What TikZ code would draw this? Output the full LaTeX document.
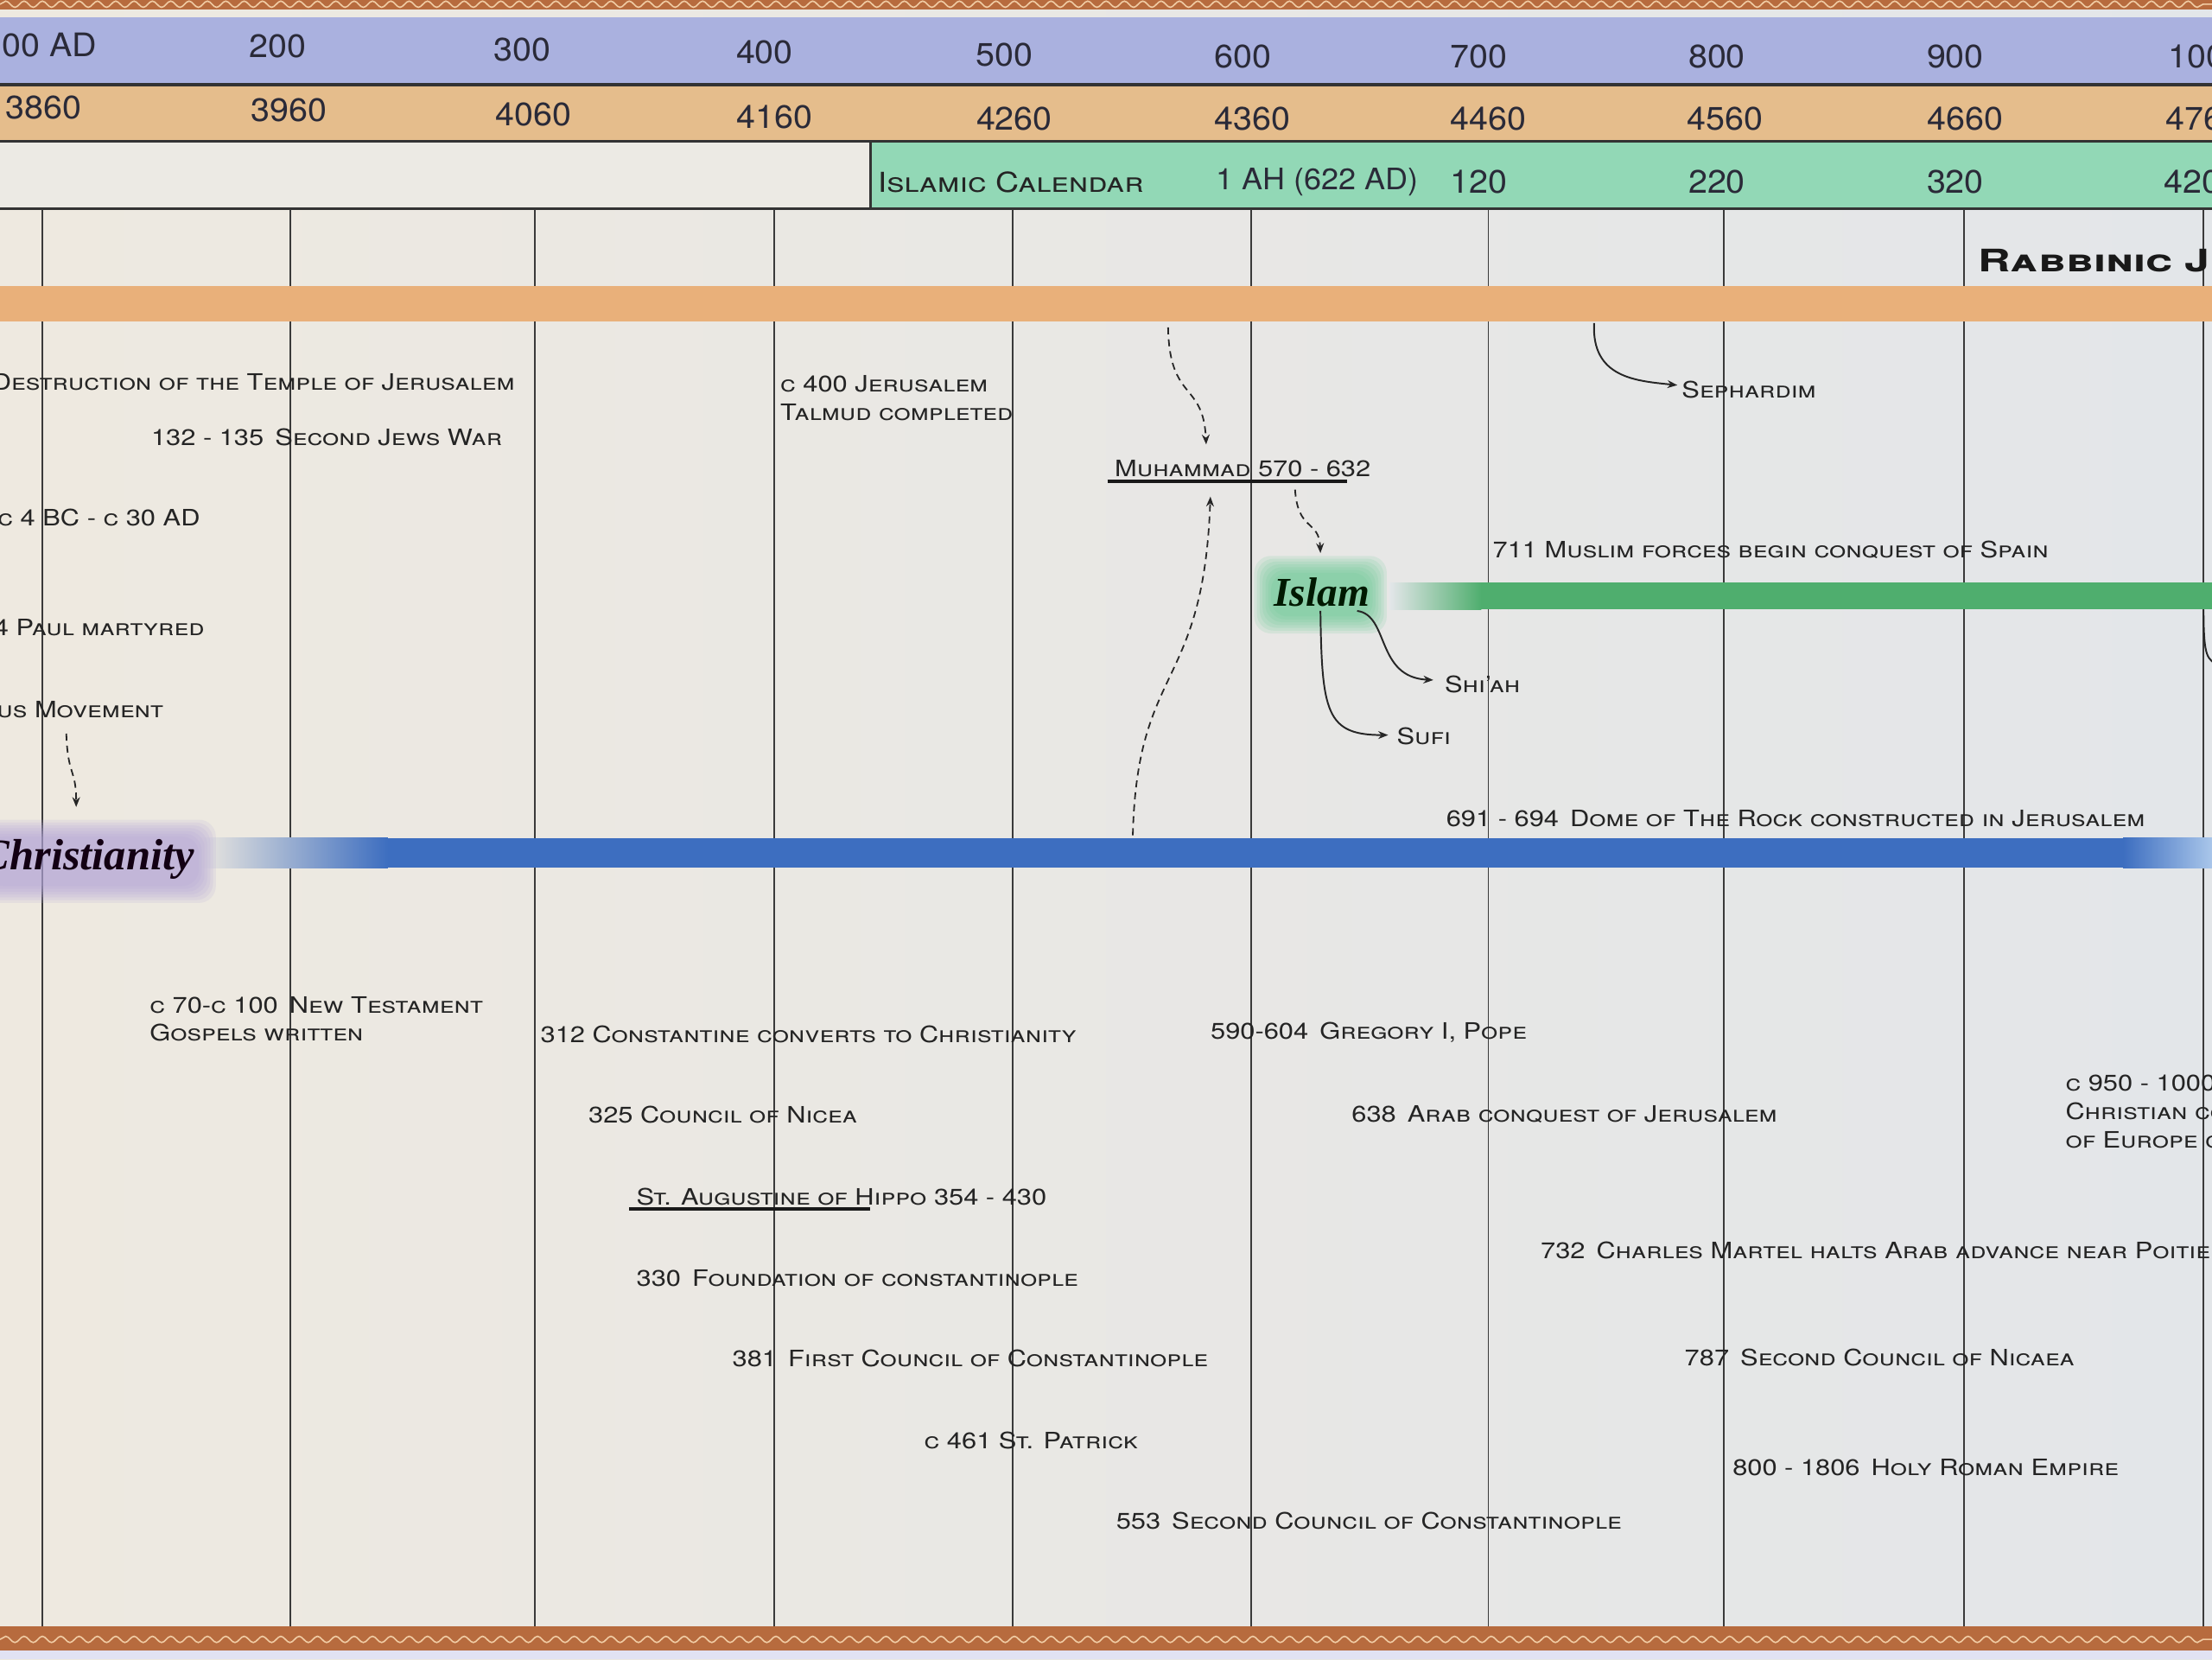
\documentclass[tikz,border=0pt]{standalone}
\usepackage{fontspec}
\setmainfont{TeX Gyre Heros}[FakeStretch=1.18]
\newfontfamily\hdrfont{TeX Gyre Heros}[FakeStretch=1.05]
\newfontfamily\cpfont{TeX Gyre Heros}[FakeStretch=1.45]
\newfontfamily\relfont{Liberation Serif}
\usetikzlibrary{arrows.meta,decorations.pathmorphing}
\definecolor{bgL}{HTML}{EEE9E0}
\definecolor{bgR}{HTML}{E3E6E9}
\definecolor{hblue}{HTML}{AAB1DF}
\definecolor{horange}{HTML}{E5BD8C}
\definecolor{hgreen}{HTML}{92D8B6}
\definecolor{hgray}{HTML}{ECEAE4}
\definecolor{rabb}{HTML}{E9B07A}
\definecolor{isl}{HTML}{4FAE6E}
\definecolor{chr}{HTML}{3D6EC0}
\definecolor{chrL}{HTML}{A9C6EA}
\definecolor{brd}{HTML}{B76B3E}
\definecolor{wavec}{HTML}{F0CBA3}
\definecolor{evc}{HTML}{242424}
\definecolor{hdc}{HTML}{2A2A38}
\definecolor{gridc}{HTML}{3A3A3A}
\definecolor{lav}{HTML}{B3A5D8}
\definecolor{islglow}{HTML}{5FC88E}
\newcommand\evfont{\fontsize{16}{20}\selectfont\scshape}
\newcommand\hdfont{\hdrfont\fontsize{23}{23}\selectfont}
\tikzset{
 ev/.style={font=\evfont, text=evc, inner sep=0pt, align=left},
 hd/.style={font=\hdfont, text=hdc, inner sep=0pt},
 gridline/.style={draw=gridc, line width=1.1pt},
 rowline/.style={draw=black!80, line width=2pt},
 darr/.style={draw=black!85, line width=1.1pt, dash pattern=on 5pt off 3.5pt, -{Stealth[length=7pt,width=5.5pt]}},
 sarr/.style={draw=black!85, line width=1.2pt, -{Stealth[length=7pt,width=5.5pt]}},
 uline/.style={draw=black!90, line width=2.6pt},
 wavy/.style={draw=wavec, line width=1pt, decorate, decoration={snake, segment length=13pt, amplitude=2.2pt}},
}
\begin{document}
\begin{tikzpicture}[x=1pt,y=-1pt]
\useasboundingbox (0,0) rectangle (1568,1176);
% background
\shade[left color=bgL, right color=bgR] (0,0) rectangle (1568,1176);
% top border
\fill[brd] (0,0) rectangle (1568,7);
\draw[wavy] (0,3) -- (1568,3);
% header rows
\fill[hblue] (0,12) rectangle (1568,60);
\fill[horange] (0,60) rectangle (1568,100);
\fill[hgray] (0,100) rectangle (617,148);
\fill[hgreen] (617,100) rectangle (1568,148);
\draw[rowline] (0,60) -- (1568,60);
\draw[rowline] (0,100) -- (1568,100);
\draw[rowline] (0,148) -- (1568,148);
\draw[rowline] (617,100) -- (617,148);
% grid
\foreach \gx in {30,206,379,549,718,887,1055,1222,1392,1562}
  \draw[gridline] (\gx,148) -- (\gx,1153);
% bottom border
\fill[brd] (0,1153) rectangle (1568,1170);
\draw[wavy] (0,1162) -- (1568,1162);
\fill[bgR!90!blue!60!white] (0,1170) rectangle (1568,1176);
% header text
\node[hd, anchor=east] (y100) at (69,32) {100 AD};
\node[hd] (y200) at (197,33) {200};
\node[hd] (y300) at (370,35) {300};
\node[hd] (y400) at (542,37) {400};
\node[hd] (y500) at (712,39) {500};
\node[hd] (y600) at (881,40) {600};
\node[hd] (y700) at (1048,40) {700};
\node[hd] (y800) at (1217,40) {800};
\node[hd] (y900) at (1386,40) {900};
\node[hd, anchor=west] (y1000) at (1537,40) {1000};
\node[hd] (h3860) at (31,76) {3860};
\node[hd] (h3960) at (205,78) {3960};
\node[hd] (h4060) at (378,81) {4060};
\node[hd] (h4160) at (549,83) {4160};
\node[hd] (h4260) at (719,84) {4260};
\node[hd] (h4360) at (888,84) {4360};
\node[hd] (h4460) at (1055,84) {4460};
\node[hd] (h4560) at (1223,84) {4560};
\node[hd] (h4660) at (1393,84) {4660};
\node[hd, anchor=west] (h4760) at (1535,84) {4760};
\node[ev, anchor=west, font=\fontsize{19.5}{19.5}\selectfont\scshape] (ical) at (622,129) {Islamic Calendar};
\node[hd, anchor=west, font=\hdrfont\fontsize{21}{21}\selectfont] (ah1) at (862,129) {1 AH (622 AD)};
\node[hd] (ah120) at (1048,129) {120};
\node[hd] (ah220) at (1217,129) {220};
\node[hd] (ah320) at (1386,129) {320};
\node[hd, anchor=west] (ah420) at (1534,129) {420};
% bands
\fill[rabb] (0,203) rectangle (1568,228);
\shade[left color=bgR, right color=isl] (985,413) rectangle (1050,432);
\fill[isl] (1050,413) rectangle (1568,432);
\shade[left color=bgL, right color=chr] (140,594) rectangle (275,615);
\fill[chr] (275,594) rectangle (1505,615);
\shade[left color=chr, right color=chrL] (1505,594) rectangle (1568,615);
% glows
\foreach \gi in {12,10,8,6,4,2,0}{
  \fill[lav, opacity=0.16, rounded corners=12pt] (-10-\gi,593-\gi) rectangle (141+\gi,628+\gi);
  \fill[islglow, opacity=0.14, rounded corners=12pt] (901-\gi,406-\gi) rectangle (971+\gi,437+\gi);
}
\node[inner sep=0pt, anchor=east, font=\relfont\bfseries\itshape\fontsize{31}{31}\selectfont, text=black!85!violet] (chrlbl) at (138,609) {Christianity};
\node[inner sep=0pt, font=\relfont\bfseries\itshape\fontsize{29}{29}\selectfont, text=black!90!green] (isllbl) at (937,420) {Islam};
\node[inner sep=0pt, anchor=west, font=\cpfont\bfseries\fontsize{22}{22}\selectfont\scshape, text=black!90] (rabblbl) at (1402,185) {Rabbinic J};
% events
\node[ev, anchor=east] (dest) at (365,271) {Destruction of the Temple of Jerusalem};
\node[ev, anchor=west] (jw2) at (107,310) {132 - 135\enspace Second Jews War};
\node[ev, anchor=east] (jesus) at (142,367) {c 4 BC - c 30 AD};
\node[ev, anchor=east] (paul) at (145,445) {4 Paul martyred};
\node[ev, anchor=east] (jmov) at (116,503) {us Movement};
\node[ev, anchor=north west] (talmud) at (553,266) {c 400 Jerusalem\\Talmud completed};
\node[ev, anchor=west] (muh) at (790,332) {Muhammad 570 - 632};
\node[ev, anchor=west] (seph) at (1192,276) {Sephardim};
\node[ev, anchor=west] (spain) at (1058,390) {711 Muslim forces begin conquest of Spain};
\node[ev, anchor=west] (shiah) at (1024,485) {Shi’ah};
\node[ev, anchor=west] (sufi) at (990,522) {Sufi};
\node[ev, anchor=west] (dome) at (1025,580) {691 - 694\enspace Dome of The Rock constructed in Jerusalem};
\node[ev, anchor=north west] (nt) at (106,706) {c 70-c 100\enspace New Testament\\Gospels written};
\node[ev, anchor=west] (constx) at (383,733) {312 Constantine converts to Christianity};
\node[ev, anchor=west] (nicea) at (417,790) {325 Council of Nicea};
\node[ev, anchor=west] (aug) at (451,848) {St. Augustine of Hippo 354 - 430};
\node[ev, anchor=west] (found) at (451,906) {330\enspace Foundation of constantinople};
\node[ev, anchor=west] (first) at (519,963) {381\enspace First Council of Constantinople};
\node[ev, anchor=west] (patrick) at (655,1021) {c 461 St. Patrick};
\node[ev, anchor=west] (second) at (791,1078) {553\enspace Second Council of Constantinople};
\node[ev, anchor=west] (greg) at (858,732) {590-604\enspace Gregory I, Pope};
\node[ev, anchor=west] (arab) at (958,790) {638\enspace Arab conquest of Jerusalem};
\node[ev, anchor=west] (martel) at (1092,886) {732\enspace Charles Martel halts Arab advance near Poitiers};
\node[ev, anchor=west] (nic2) at (1194,962) {787\enspace Second Council of Nicaea};
\node[ev, anchor=west] (hre) at (1228,1040) {800 - 1806\enspace Holy Roman Empire};
\node[ev, anchor=north west] (c950) at (1464,762) {c 950 - 1000\\Christian co\\of Europe c};
% underlines
\draw[uline] (785,341) -- (955,341);
\draw[uline] (446,857) -- (617,857);
% connector end points
\coordinate (jm1) at (47,520);
\coordinate (jm2) at (54,572);
\coordinate (rb1) at (828,232);
\coordinate (mu1) at (855,315);
\coordinate (cb1) at (803,592);
\coordinate (mu2) at (858,352);
\coordinate (mu3) at (918,347);
\coordinate (is1) at (936,392);
\coordinate (is2) at (962,433);
\coordinate (sh1) at (1016,482);
\coordinate (is3) at (936,433);
\coordinate (su1) at (984,521);
\coordinate (rb2) at (1130,229);
\coordinate (se1) at (1189,273);
\coordinate (gb1) at (1562,432);
\coordinate (gb2) at (1572,472);
% connectors
\draw[darr] (jm1) .. controls (48,550) and (54,545) .. (jm2);
\draw[darr] (rb1) .. controls (829,285) and (853,270) .. (mu1);
\draw[darr] (cb1) .. controls (806,470) and (853,490) .. (mu2);
\draw[darr] (mu3) .. controls (920,377) and (935,368) .. (is1);
\draw[sarr] (is2) .. controls (985,436) and (975,480) .. (sh1);
\draw[sarr] (is3) .. controls (937,505) and (940,521) .. (su1);
\draw[sarr] (rb2) .. controls (1128,268) and (1160,270) .. (se1);
\draw[draw=black!85, line width=1.2pt] (gb1) .. controls (1562,468) and (1565,466) .. (gb2);
\end{tikzpicture}
\end{document}
